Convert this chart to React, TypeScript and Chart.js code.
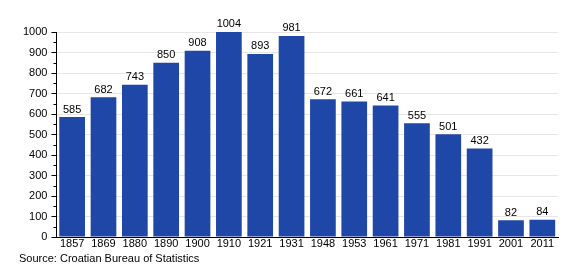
import React, { useEffect, useRef } from "react";
import { Chart, registerables } from "chart.js";

Chart.register(...registerables);

const years = ["1857", "1869", "1880", "1890", "1900", "1910", "1921", "1931", "1948", "1953", "1961", "1971", "1981", "1991", "2001", "2011"];
const population = [585, 682, 743, 850, 908, 1004, 893, 981, 672, 661, 641, 555, 501, 432, 82, 84];
const sourceText = "Source: Croatian Bureau of Statistics";

const FONT = "'Liberation Sans', Arial, sans-serif";

const valueLabels = {
  id: "valueLabels",
  afterDatasetsDraw(chart: any) {
    const ctx = chart.ctx;
    const meta = chart.getDatasetMeta(0);
    ctx.save();
    ctx.font = `11px ${FONT}`;
    ctx.fillStyle = "#000";
    ctx.textAlign = "center";
    ctx.textBaseline = "bottom";
    meta.data.forEach((bar: any, i: number) => {
      ctx.fillText(String(population[i]), bar.x, bar.y - 2);
    });
    ctx.restore();
  },
};

const minorTicks = {
  id: "minorTicks",
  afterDraw(chart: any) {
    const ctx = chart.ctx;
    const y = chart.scales.y;
    const left = chart.chartArea.left;
    ctx.save();
    ctx.strokeStyle = "#000";
    ctx.lineWidth = 1;
    for (let v = 50; v < 1000; v += 100) {
      const py = Math.round(y.getPixelForValue(v)) + 0.5;
      ctx.beginPath();
      ctx.moveTo(left - 3, py);
      ctx.lineTo(left, py);
      ctx.stroke();
    }
    ctx.restore();
  },
};

export default function App() {
  const ref = useRef<HTMLCanvasElement>(null);
  useEffect(() => {
    document.body.style.margin = "0";
    const chart = new Chart(ref.current!, {
      type: "bar",
      data: {
        labels: years,
        datasets: [
          {
            data: population,
            backgroundColor: "#1f47a8",
            categoryPercentage: 0.82,
            barPercentage: 1.0,
          },
        ],
      },
      options: {
        animation: false,
        responsive: false,
        maintainAspectRatio: false,
        layout: { padding: { left: 19, right: 22, top: 32, bottom: 12 } },
        plugins: {
          legend: { display: false },
          tooltip: { enabled: false },
          title: {
            display: true,
            text: sourceText,
            position: "bottom",
            align: "start",
            color: "#000",
            font: { family: FONT, size: 11, weight: "normal", lineHeight: 1.0 },
            padding: { top: 3, bottom: 4 },
          },
        },
        scales: {
          x: {
            grid: { display: false, drawTicks: false },
            border: { display: true, color: "#000", width: 1 },
            ticks: { color: "#000", font: { family: FONT, size: 11, lineHeight: 1.0 }, padding: 1, maxRotation: 0, autoSkip: false },
          },
          y: {
            min: 0,
            max: 1000,
            grid: { color: "#e6e6e6", tickColor: "#000", tickLength: 5 },
            border: { display: true, color: "#000", width: 1 },
            ticks: { stepSize: 100, color: "#000", font: { family: FONT, size: 11 }, padding: 4, callback: (v: any) => String(v) },
          },
        },
      },
      plugins: [valueLabels, minorTicks],
    });
    return () => chart.destroy();
  }, []);
  return (
    <div style={{ width: 580, height: 280 }}>
      <canvas ref={ref} width={580} height={280} style={{ width: 580, height: 280 }} />
    </div>
  );
}
